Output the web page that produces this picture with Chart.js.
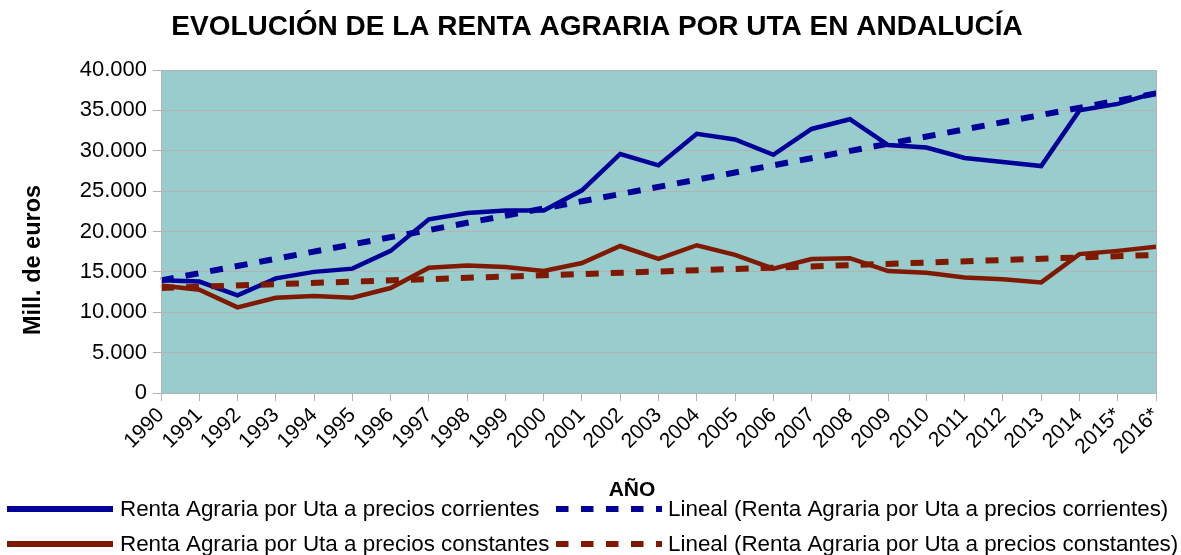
<!DOCTYPE html>
<html>
<head>
<meta charset="utf-8">
<script src="https://cdn.jsdelivr.net/npm/chart.js@4.4.1/dist/chart.umd.min.js"></script>
<style>
  html, body { margin: 0; padding: 0; background: #fff; }
  #wrap { width: 1181px; height: 555px; position: relative; }
</style>
</head>
<body>
<div id="wrap"><canvas id="chart"></canvas></div>
<script>
// Datos
const years = ["1990", "1991", "1992", "1993", "1994", "1995", "1996", "1997", "1998", "1999",
  "2000", "2001", "2002", "2003", "2004", "2005", "2006", "2007", "2008", "2009",
  "2010", "2011", "2012", "2013", "2014", "2015*", "2016*"];

const rentaCorrientes = [13950, 13800, 12100, 14200, 15000, 15400, 17600, 21500, 22300, 22600,
  22600, 25100, 29600, 28200, 32100, 31400, 29500, 32700, 33900, 30700,
  30400, 29100, 28600, 28100, 35000, 35800, 37200];

const rentaConstantes = [13300, 12800, 10600, 11800, 12000, 11800, 13000, 15500, 15800, 15600,
  15100, 16100, 18200, 16600, 18300, 17100, 15400, 16600, 16700, 15100,
  14900, 14300, 14100, 13700, 17200, 17600, 18100];

// Líneas de tendencia: sólo los extremos
const tendCorrientes = [13950, null, null, null, null, null, null, null, null, null,
  null, null, null, null, null, null, null, null, null, null,
  null, null, null, null, null, null, 37100];
const tendConstantes = [13000, null, null, null, null, null, null, null, null, null,
  null, null, null, null, null, null, null, null, null, null,
  null, null, null, null, null, null, 17100];

const yTicks = [0, 5000, 10000, 15000, 20000, 25000, 30000, 35000, 40000];

const BLUE = "#000099";
const RED = "#7f1a00";
const FONT = "'Liberation Sans', Arial, sans-serif";
const TITLE = "EVOLUCIÓN DE LA RENTA AGRARIA POR UTA EN ANDALUCÍA";

const legendItems = [
  { text: "Renta Agraria por Uta a precios corrientes", color: BLUE, dashed: false, x: 7, y: 509 },
  { text: "Lineal (Renta Agraria por Uta a precios corrientes)", color: BLUE, dashed: true, x: 556, y: 509 },
  { text: "Renta Agraria por Uta a precios constantes", color: RED, dashed: false, x: 7, y: 544 },
  { text: "Lineal (Renta Agraria por Uta a precios constantes)", color: RED, dashed: true, x: 556, y: 544 },
];

// Fondo del área del gráfico + título + textos de ejes + leyenda
const extras = {
  id: "extras",
  beforeDraw(chart) {
    const { ctx, chartArea: a } = chart;
    ctx.save();
    ctx.fillStyle = "#99cccc";
    ctx.fillRect(a.left, a.top, a.right - a.left, a.bottom - a.top);
    ctx.restore();
  },
  afterDraw(chart) {
    const { ctx, chartArea: a } = chart;
    ctx.save();
    ctx.strokeStyle = "#b3b3b3";
    ctx.lineWidth = 1;
    ctx.strokeRect(a.left + 0.5, a.top + 0.5, a.right - a.left, a.bottom - a.top);

    ctx.fillStyle = "#000";
    ctx.textAlign = "center";
    ctx.textBaseline = "middle";

    // título
    ctx.font = "bold 28px " + FONT;
    ctx.fillText(TITLE, 597, 27);

    // títulos de los ejes
    ctx.font = "bold 21px " + FONT;
    ctx.fillText("AÑO", 632, 490);
    ctx.save();
    ctx.font = "bold 23.5px " + FONT;
    ctx.translate(34, 260);
    ctx.rotate(-Math.PI / 2);
    ctx.fillText("Mill. de euros", 0, 0);
    ctx.restore();

    // leyenda
    ctx.font = "22.4px " + FONT;
    ctx.textAlign = "left";
    legendItems.forEach((it) => {
      ctx.strokeStyle = it.color;
      ctx.lineWidth = 6;
      ctx.setLineDash(it.dashed ? [12.5, 12.5] : []);
      ctx.beginPath();
      ctx.moveTo(it.x, it.y);
      ctx.lineTo(it.x + 106, it.y);
      ctx.stroke();
      ctx.setLineDash([]);
      ctx.fillStyle = "#000";
      ctx.fillText(it.text, it.x + (it.dashed ? 112 : 113), it.y + 1);
    });
    ctx.restore();
  },
};

new Chart(document.getElementById("chart"), {
  type: "line",
  data: {
    labels: years,
    datasets: [
      {
        label: "Lineal (Renta Agraria por Uta a precios corrientes)",
        data: tendCorrientes,
        borderColor: BLUE,
        borderWidth: 6,
        borderDash: [13, 12],
        spanGaps: true,
        pointRadius: 0,
        order: 1,
      },
      {
        label: "Lineal (Renta Agraria por Uta a precios constantes)",
        data: tendConstantes,
        borderColor: RED,
        borderWidth: 6,
        borderDash: [13, 12],
        spanGaps: true,
        pointRadius: 0,
        order: 2,
      },
      {
        label: "Renta Agraria por Uta a precios corrientes",
        data: rentaCorrientes,
        borderColor: BLUE,
        borderWidth: 4.5,
        pointRadius: 0,
        tension: 0,
        order: 3,
      },
      {
        label: "Renta Agraria por Uta a precios constantes",
        data: rentaConstantes,
        borderColor: RED,
        borderWidth: 4.5,
        pointRadius: 0,
        tension: 0,
        order: 4,
      },
    ],
  },
  options: {
    responsive: true,
    maintainAspectRatio: false,
    animation: false,
    layout: { padding: { left: 0, right: 25, top: 70, bottom: 72 } },
    plugins: {
      legend: { display: false },
      tooltip: { enabled: false },
      title: { display: false },
    },
    scales: {
      x: {
        offset: false,
        grid: { drawOnChartArea: false, color: "#b3b3b3", tickLength: 8 },
        border: { color: "#b3b3b3" },
        ticks: {
          autoSkip: false,
          maxRotation: 45,
          minRotation: 45,
          color: "#000",
          padding: 2,
          font: { family: FONT, size: 21 },
        },
        afterFit: (s) => { s.height = 90; },
      },
      y: {
        min: 0,
        max: 40000,
        afterBuildTicks: (s) => { s.ticks = yTicks.map((v) => ({ value: v })); },
        grid: { color: "#b3b3b3", tickLength: 8 },
        border: { color: "#b3b3b3" },
        ticks: {
          color: "#000",
          padding: 6,
          font: { family: FONT, size: 22 },
          callback: (v) => (v === 0 ? "0" : v.toLocaleString("de-DE")),
        },
        afterFit: (s) => { s.width = 161; },
      },
    },
  },
  plugins: [extras],
});
</script>
</body>
</html>
